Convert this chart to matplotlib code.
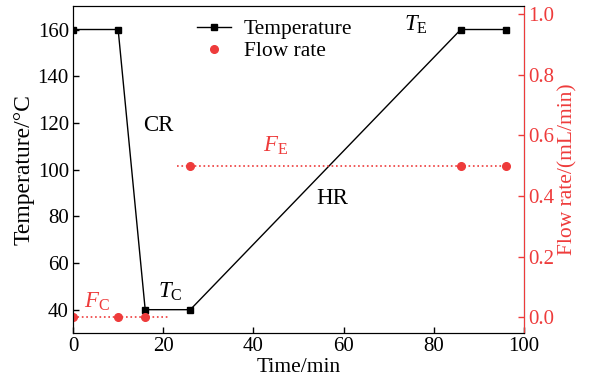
import matplotlib
matplotlib.use("Agg")
import matplotlib.pyplot as plt

plt.rcParams['font.family'] = ['Liberation Serif', 'DejaVu Serif']
plt.rcParams['mathtext.fontset'] = 'custom'
plt.rcParams['mathtext.it'] = 'Liberation Serif:italic'
plt.rcParams['mathtext.rm'] = 'Liberation Serif'
plt.rcParams['font.size'] = 15

# temperature program
time_T = [0, 10, 16, 26, 86, 96]
temp = [160, 160, 40, 40, 160, 160]

# flow rate points
time_F = [0, 10, 16, 26, 86, 96]
flow = [0, 0, 0, 0.5, 0.5, 0.5]

# dotted guide lines for flow rate
fc_line_x = [0, 21]
fc_line_y = [0, 0]
fe_line_x = [23, 96]
fe_line_y = [0.5, 0.5]

red = '#ee3b3b'

fig, ax = plt.subplots(figsize=(5.94, 3.85), dpi=100)
ax2 = ax.twinx()

l1, = ax.plot(time_T, temp, color='black', lw=1.0, marker='s', ms=4, label='Temperature')
l2, = ax2.plot(time_F, flow, ls='none', marker='o', ms=5.5, color=red, label='Flow rate')
ax2.plot(fc_line_x, fc_line_y, ls=':', color=red, lw=1.2)
ax2.plot(fe_line_x, fe_line_y, ls=':', color=red, lw=1.2)

ax.set_xlim(0, 100)
ax.set_ylim(30, 170)
ax2.set_ylim(-0.052, 1.026)
ax.set_xticks([0, 20, 40, 60, 80, 100])
ax.set_yticks([40, 60, 80, 100, 120, 140, 160])
ax2.set_yticks([0.0, 0.2, 0.4, 0.6, 0.8, 1.0])
ax2.set_yticklabels(['0.0', '0.2', '0.4', '0.6', '0.8', '1.0'])

ax.tick_params(direction='in', length=4, width=1, pad=3)
ax2.tick_params(direction='in', length=4, width=1, colors=red, pad=3)
ax2.spines['right'].set_color(red)

ax.set_xlabel('Time/min', labelpad=1, fontsize=15.5)
ax.set_ylabel('Temperature/°C', labelpad=2, fontsize=17)
ax2.set_ylabel('Flow rate/(mL/min)', color=red, labelpad=3, fontsize=15.5)

fs = 16.5
ax.text(18.8, 119, 'CR', ha='center', va='center', fontsize=fs)
ax.text(57.5, 87.5, 'HR', ha='center', va='center', fontsize=fs)
ax.text(21.5, 47.5, r'$T_{\mathrm{C}}$', ha='center', va='center', fontsize=fs)
ax.text(76, 162, r'$T_{\mathrm{E}}$', ha='center', va='center', fontsize=fs)
ax.text(5.3, 43.5, r'$F_{\mathrm{C}}$', ha='center', va='center', color=red, fontsize=fs)
ax.text(45, 110, r'$F_{\mathrm{E}}$', ha='center', va='center', color=red, fontsize=fs)

ax.legend([l1, l2], ['Temperature', 'Flow rate'], loc='upper center', frameon=False,
          bbox_to_anchor=(0.447, 1.0), handlelength=1.6, handletextpad=0.6,
          labelspacing=0.1, borderaxespad=0.2, fontsize=15.5)

fig.subplots_adjust(left=0.123, right=0.882, top=0.984, bottom=0.135)
fig.savefig('out.png', dpi=100)
